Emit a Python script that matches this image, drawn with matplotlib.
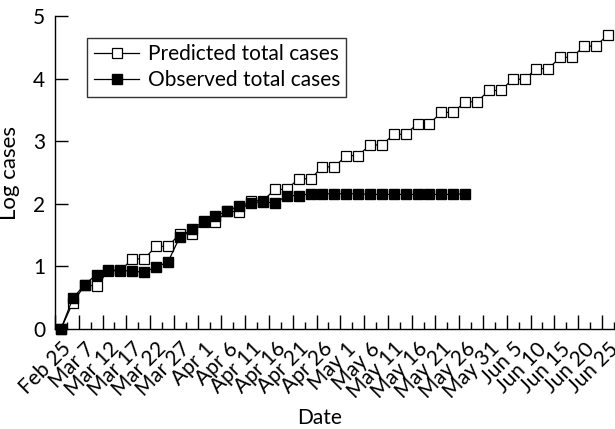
import matplotlib
matplotlib.use("Agg")
import matplotlib.pyplot as plt
from matplotlib.ticker import FixedLocator, NullFormatter
import numpy as np

# every other category carries a date label
date_labels = ["Feb 25", "Mar 7", "Mar 12", "Mar 17", "Mar 22", "Mar 27",
               "Apr 1", "Apr 6", "Apr 11", "Apr 16", "Apr 21", "Apr 26",
               "May 1", "May 6", "May 11", "May 16", "May 21", "May 26",
               "May 31", "Jun 5", "Jun 10", "Jun 15", "Jun 20", "Jun 25"]

predicted = [0.00, 0.42, 0.70, 0.69, 0.93, 0.93, 1.12, 1.12, 1.32, 1.32,
             1.52, 1.52, 1.71, 1.71, 1.88, 1.87, 2.05, 2.05, 2.23, 2.23,
             2.40, 2.40, 2.59, 2.59, 2.77, 2.77, 2.94, 2.94, 3.11, 3.11,
             3.28, 3.28, 3.46, 3.46, 3.63, 3.63, 3.81, 3.81, 3.99, 3.99,
             4.16, 4.16, 4.34, 4.34, 4.52, 4.52, 4.70]

observed = [0.00, 0.49, 0.71, 0.87, 0.94, 0.94, 0.92, 0.91, 0.99, 1.07,
            1.47, 1.59, 1.72, 1.81, 1.88, 1.97, 2.02, 2.03, 2.01, 2.13,
            2.13, 2.16, 2.16, 2.16, 2.16, 2.16, 2.15, 2.15, 2.15, 2.15,
            2.15, 2.15, 2.15, 2.15, 2.16]

plt.rcParams["font.family"] = ["Lato", "DejaVu Sans"]

fig = plt.figure(figsize=(6.15, 4.29), dpi=100)
ax = fig.add_axes([0.0894, 0.2331, 0.9086, 0.7296])

n = len(predicted)
ax.plot(np.arange(n), predicted, color="black", lw=0.9, marker="s", ms=7.5,
        mfc="white", mec="black", mew=0.9, label="Predicted total cases",
        clip_on=False, zorder=3)
ax.plot(np.arange(len(observed)), observed, color="black", lw=0.9, marker="s",
        ms=7.5, mfc="black", mec="black", label="Observed total cases",
        clip_on=False, zorder=4)

ax.set_xlim(-0.5, n - 0.5)
ax.set_ylim(0, 5)

for s in ["top", "right"]:
    ax.spines[s].set_visible(False)
ax.spines["left"].set_linewidth(1.0)
ax.spines["bottom"].set_linewidth(1.0)

# long ticks on every second category boundary, short ones between
ax.xaxis.set_major_locator(FixedLocator(np.arange(-0.5, n, 2)))
ax.xaxis.set_major_formatter(NullFormatter())
ax.xaxis.set_minor_locator(FixedLocator(np.arange(0.5, n, 2)))
ax.tick_params(axis="x", which="major", direction="in", length=10, width=1.0)
ax.tick_params(axis="x", which="minor", direction="in", length=5, width=1.0)

# date labels under every second category, carried by a twin x axis
lab = ax.secondary_xaxis(0)
lab.set_xticks(np.arange(0, n, 2))
lab.set_xticklabels(date_labels)
lab.tick_params(length=0, pad=7, labelsize=15, labelrotation=45)
for t in lab.get_xticklabels():
    t.set_ha("right")
    t.set_rotation_mode("anchor")
lab.spines["bottom"].set_visible(False)

ax.set_xlabel("Date", fontsize=15)
ax.xaxis.set_label_coords(0.474, -0.284)
ax.xaxis.label.set_va("center")

ax.set_yticks([0, 1, 2, 3, 4, 5])
ax.tick_params(axis="y", direction="in", length=9.5, width=1.0, labelsize=15,
               pad=7)

ax.set_ylabel("Log cases", fontsize=16)
ax.yaxis.set_label_coords(-0.063, 0.5)

leg = ax.legend(loc="upper left", bbox_to_anchor=(0.058, 0.93), fontsize=15,
                frameon=True, fancybox=False, edgecolor="black",
                handlelength=2.2, borderpad=0.3, labelspacing=0.3,
                handletextpad=0.4, borderaxespad=0)
leg.get_frame().set_linewidth(1.0)

fig.savefig("out.png", dpi=100)
